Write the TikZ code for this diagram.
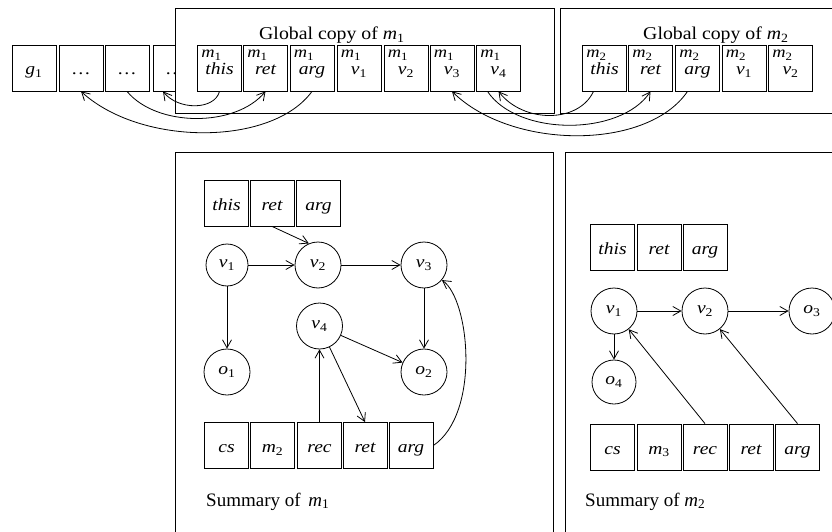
\documentclass[tikz,border=0pt]{standalone}
\usepackage{fontspec}
\setmainfont{Liberation Serif}
\newfontfamily\widefont[FakeStretch=1.15]{Liberation Serif}
\newfontfamily\headfont[FakeStretch=1.1]{Liberation Serif}
\usetikzlibrary{arrows.meta,calc}

% italic letter with an upright index
\newcommand\sub[2]{\textit{#1}\textsubscript{\upshape #2}}

\tikzset{
  lab/.style={font=\widefont\fontsize{17}{19}\selectfont\itshape},
  cell/.style={draw, line width=0.8pt, minimum width=44pt, minimum height=46pt,
    inner sep=0pt, text height=14pt, text depth=0pt, lab},
  mlab/.style={font=\widefont\fontsize{16}{18}\selectfont, inner sep=0pt, anchor=base west},
  st/.style={draw, circle, line width=0.8pt, minimum size=46pt, inner sep=0pt, lab},
  frame/.style={draw, line width=0.8pt, fill=white},
  head/.style={font=\headfont\fontsize{18}{20}\selectfont, inner sep=0pt, anchor=base west},
  caption/.style={font=\fontsize{19}{21}\selectfont, inner sep=0pt, anchor=base west},
  link/.style={line width=0.8pt, -{Straight Barb[length=8pt,width=9pt]}},
}

% cell of a global copy: name, x, method index, variable
\newcommand\gcell[4]{%
  \node[cell] (#1) at (#2,68) {#4};
  \node[mlab] (#1m) at ([xshift=4pt,yshift=-13pt]#1.north west) {\sub{m}{#3}};}

\begin{document}
\begin{tikzpicture}[x=1pt, y=-1pt]
\useasboundingbox (0,0) rectangle (832,532);

% global cells
\node[cell] (g1) at (34,68) {\sub{g}{1}};
\node[cell] (d1) at (81,68) {\upshape\ldots};
\node[cell] (d2) at (127,68) {\upshape\ldots};
\node[cell] (d3) at (175,68) {\upshape\ldots};

% global copy of m1
\draw[frame] (175,8) rectangle (554,113);
\node[head] (gm1) at (259,40) {Global copy of \sub{m}{1}};
\gcell{m1this}{219.5}{1}{this}
\gcell{m1ret}{265.5}{1}{ret}
\gcell{m1arg}{312}{1}{arg}
\gcell{m1v1}{359}{1}{\sub{v}{1}}
\gcell{m1v2}{406}{1}{\sub{v}{2}}
\gcell{m1v3}{452}{1}{\sub{v}{3}}
\gcell{m1v4}{498.5}{1}{\sub{v}{4}}

% global copy of m2
\draw[frame] (560,8) rectangle (845,113);
\node[head] (gm2) at (643,40) {Global copy of \sub{m}{2}};
\gcell{m2this}{604.5}{2}{this}
\gcell{m2ret}{650.5}{2}{ret}
\gcell{m2arg}{697.5}{2}{arg}
\gcell{m2v1}{744}{2}{\sub{v}{1}}
\gcell{m2v2}{790.5}{2}{\sub{v}{2}}

% bindings between the global copies
\draw[link] (m1this.south) .. controls +(-5,19) and +(15,19) .. ([xshift=-12pt]d3.south);
\draw[link] (d2.south) .. controls +(30,36) and +(-30,36) .. (m1ret.south);
\draw[link] (m1arg.south) .. controls +(-40,55) and +(60,55) .. (d1.south);
\draw[link] ([xshift=-11pt]m2this.south) .. controls +(-15,32) and +(25,32) .. (m1v4.south);
\draw[link] ([xshift=-11pt]m1v4.south) .. controls +(30,45) and +(-30,45) .. (m2ret.south);
\draw[link] ([xshift=-10pt]m2arg.south) .. controls +(-40,59) and +(60,59) .. (m1v3.south);

% summary of m1
\draw[frame] (175,152) rectangle (553,545);
\node[cell] (s1this) at (226.5,203) {this};
\node[cell] (s1ret) at (272,203) {ret};
\node[cell] (s1arg) at (318.5,203) {arg};
\node[st, minimum size=42pt] (s1v1) at (227,265) {\sub{v}{1}};
\node[st] (s1v2) at (318,265) {\sub{v}{2}};
\node[st] (s1v3) at (424,265) {\sub{v}{3}};
\node[st] (s1v4) at (319.5,326) {\sub{v}{4}};
\node[st] (s1o1) at (227,372) {\sub{o}{1}};
\node[st] (s1o2) at (424,372) {\sub{o}{2}};
\node[cell] (b1cs) at (226.5,445.5) {cs};
\node[cell] (b1m) at (272.5,445.5) {\sub{m}{2}};
\node[cell] (b1rec) at (319.5,445.5) {rec};
\node[cell] (b1ret) at (365,445.5) {ret};
\node[cell] (b1arg) at (411,445.5) {arg};
\node[caption] (cap1) at (206,506) {Summary of\hspace{3pt} \sub{m}{1}};

\draw[link] (s1ret.south) -- (s1v2.113);
\draw[link] (s1v1) -- (s1v2);
\draw[link] (s1v2) -- (s1v3);
\draw[link] (s1v1) -- (s1o1);
\draw[link] (s1v3) -- (s1o2);
\draw[link] (s1v4) -- (s1o2);
\draw[link] (s1v4) -- (b1ret.north);
\draw[link] (b1rec) -- (s1v4);
\draw[link] (b1arg.east) .. controls +(47,-32) and +(28,20) .. (s1v3.-40);

% summary of m2
\draw[frame] (565,152) rectangle (845,545);
\node[cell] (s2this) at (612.5,247) {this};
\node[cell] (s2ret) at (659,247) {ret};
\node[cell] (s2arg) at (705,247) {arg};
\node[st] (s2v1) at (614,311) {\sub{v}{1}};
\node[st] (s2v2) at (705,311) {\sub{v}{2}};
\node[st] (s2o3) at (812,311) {\sub{o}{3}};
\node[st, minimum size=44pt] (s2o4) at (614,382) {\sub{o}{4}};
\node[cell] (b2cs) at (612.5,447) {cs};
\node[cell] (b2m) at (659,447) {\sub{m}{3}};
\node[cell] (b2rec) at (705,447) {rec};
\node[cell] (b2ret) at (751,447) {ret};
\node[cell] (b2arg) at (797.5,447) {arg};
\node[caption] (cap2) at (585,506) {Summary of \sub{m}{2}};

\draw[link] (s2v1) -- (s2v2);
\draw[link] (s2v2) -- (s2o3);
\draw[link] (s2v1) -- (s2o4);
\draw[link] (b2rec.north) -- (s2v1);
\draw[link] (b2arg.north) -- (s2v2);
\end{tikzpicture}
\end{document}
